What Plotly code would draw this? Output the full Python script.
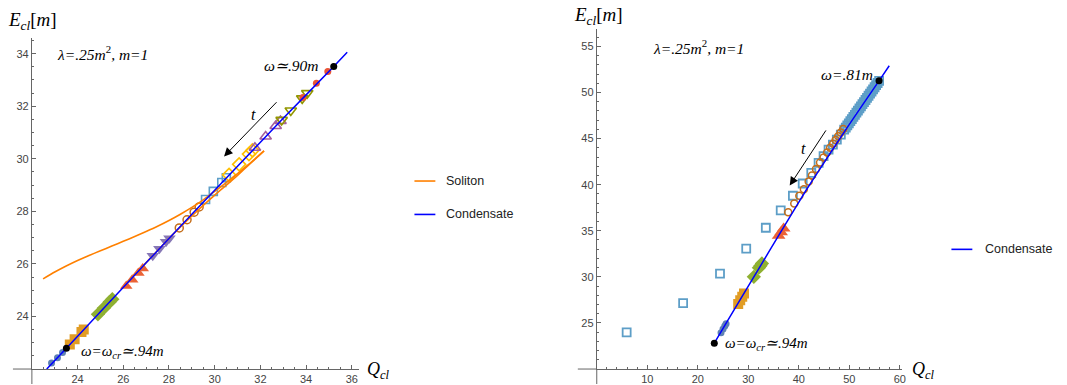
import plotly.graph_objects as go

W, H = 1067, 385

# ---------------- Left panel data ----------------
L_cond_Q = [22.65, 23.51, 25.0, 27.0, 29.0, 31.0, 33.0, 35.21, 35.8]
L_cond_E = [22.0, 22.79, 24.18, 26.04, 27.89, 29.72, 31.54, 33.51, 34.05]

L_solup_Q = [22.49, 23.0, 23.5, 24.0, 24.5, 25.0, 25.5, 26.0, 26.5, 27.0, 27.5, 28.0, 28.5, 29.0,
             29.5, 30.0, 30.5, 31.0, 31.5, 32.16]
L_solup_E = [25.43, 25.69, 25.92, 26.13, 26.32, 26.5, 26.68, 26.86, 27.04, 27.23, 27.43, 27.65,
             27.89, 28.15, 28.44, 28.76, 29.09, 29.44, 29.8, 30.3]
L_sollo_Q = [32.16, 31.6, 31.0, 30.5, 30.0, 29.5, 29.0, 28.5, 28.0, 27.5, 27.0, 26.2]
L_sollo_E = [30.3, 29.85, 29.37, 28.99, 28.62, 28.23, 27.83, 27.41, 26.97, 26.51, 26.05, 25.32]

L_s1_Q = [22.86, 23.12, 23.34]
L_s1_E = [22.23, 22.43, 22.63]
L_s2_Q = [23.66, 23.87, 24.17, 24.27]
L_s2_E = [22.93, 23.13, 23.41, 23.5]
L_s3_Q = [24.89, 25.15, 25.40, 25.52]
L_s3_E = [24.08, 24.32, 24.55, 24.66]
L_s4_Q = [26.13, 26.39, 26.66, 26.85]
L_s4_E = [25.16, 25.40, 25.65, 25.83]
L_s5_Q = [27.29, 27.58, 27.87, 28.02]
L_s5_E = [26.31, 26.58, 26.84, 26.98]
L_s6_Q = [28.45, 28.79, 29.10, 29.32]
L_s6_E = [27.37, 27.68, 27.97, 28.17]
L_s7_Q = [29.60, 29.94, 30.31, 30.51]
L_s7_E = [28.45, 28.76, 29.10, 29.28]
L_s8_Q = [30.63, 31.07, 31.50, 31.65]
L_s8_E = [29.39, 29.79, 30.18, 30.32]
L_s9_Q = [31.76, 32.23, 32.67, 32.88]
L_s9_E = [30.42, 30.85, 31.25, 31.44]
L_s10_Q = [32.93, 33.33, 33.83, 34.05]
L_s10_E = [31.48, 31.84, 32.30, 32.50]
L_s11_Q = [33.86, 34.45, 34.95]
L_s11_E = [32.33, 32.87, 33.32]
L_end_Q = [23.51, 35.21]
L_end_E = [22.79, 33.51]

L_xticks = [24, 26, 28, 30, 32, 34, 36]
L_yticks = [24, 26, 28, 30, 32, 34]

# ---------------- Right panel data ----------------
R_cond_Q = [23.27, 26.0, 30.0, 34.0, 38.0, 41.5, 45.0, 50.0, 55.88, 57.9]
R_cond_E = [22.81, 25.33, 29.0, 32.65, 36.3, 39.45, 42.4, 46.55, 51.27, 52.9]

R_s1_Q = [24.6, 25.0, 25.35, 25.6]
R_s1_E = [23.95, 24.35, 24.68, 24.9]
R_s2_Q = [28.0, 28.4, 28.8, 29.15]
R_s2_E = [27.05, 27.45, 27.85, 28.2]
R_s3_Q = [31.1, 32.1, 32.4, 32.7]
R_s3_E = [30.0, 31.0, 31.2, 31.45]
R_s4_Q = [36.0, 36.5, 37.0]
R_s4_E = [34.45, 34.85, 35.25]
R_s6_Q = [37.9, 39.1, 40.1, 41.0, 41.95, 42.6, 43.4, 44.2, 44.9, 45.6, 46.2, 46.8, 47.3, 47.8, 48.3, 48.8]
R_s6_E = [37.0, 37.95, 38.8, 39.5, 40.35, 41.0, 41.7, 42.4, 42.95, 43.5, 44.0, 44.45, 44.85, 45.25, 45.65, 46.05]
R_s7_Q = [5.92, 17.1, 24.4, 29.59, 33.47, 36.42, 38.83, 40.77, 42.47, 43.92, 44.9, 45.89, 46.75,
          47.53, 48.32, 48.98, 49.3, 49.6, 49.9, 50.2, 50.5, 50.8, 51.1, 51.4, 51.7, 52.0, 52.3,
          52.6, 52.9, 53.2, 53.5, 53.8, 54.1, 54.4, 54.7, 55.0, 55.3, 55.6, 55.9]
R_s7_E = [23.97, 27.14, 30.35, 33.06, 35.33, 37.22, 38.8, 40.13, 41.28, 42.37, 43.09, 43.81, 44.35,
          44.89, 45.43, 45.97, 46.2, 46.43, 46.66, 46.89, 47.12, 47.35, 47.58, 47.81, 48.04, 48.27, 48.5,
          48.73, 48.96, 49.19, 49.42, 49.65, 49.88, 50.11, 50.34, 50.57, 50.8, 51.03, 51.26]
R_end_Q = [23.27, 55.88]
R_end_E = [22.81, 51.27]

R_xticks = [10, 20, 30, 40, 50, 60]
R_yticks = [25, 30, 35, 40, 45, 50, 55]

C_BLUE1 = '#5E81B5'; C_ORANGE = '#E19C24'; C_GREEN = '#8FB032'; C_RED = '#EB6235'
C_PURPLE = '#8778B6'; C_BROWN = '#C56E1A'; C_LBLUE = '#5D9EC7'; C_YELLOW = '#FFBF00'
C_MAGENTA = '#A5609D'; C_OLIVE = '#929600'; C_RED2 = '#E95536'
SOL = '#FF8000'; COND = '#0000FF'

fig = go.Figure()

def mk(q, e, sym, col, size, xa, ya, lw=0.0):
    fig.add_trace(go.Scatter(x=q, y=e, mode='markers', xaxis=xa, yaxis=ya, showlegend=False,
                             marker=dict(symbol=sym, color=col, size=size,
                                         line=dict(color=col, width=lw))))

def ln(q, e, col, xa, ya, w=1.6, name=None, shape='linear'):
    fig.add_trace(go.Scatter(x=q, y=e, mode='lines', xaxis=xa, yaxis=ya, showlegend=False, name=name,
                             line=dict(color=col, width=w, shape=shape, smoothing=0.5)))

# left markers
mk(L_s1_Q, L_s1_E, 'circle', C_BLUE1, 7, 'x', 'y')
mk(L_s2_Q, L_s2_E, 'square', C_ORANGE, 10, 'x', 'y')
mk(L_s3_Q, L_s3_E, 'diamond', C_GREEN, 11, 'x', 'y')
mk(L_s4_Q, L_s4_E, 'triangle-up', C_RED, 11, 'x', 'y')
mk(L_s5_Q, L_s5_E, 'triangle-down', C_PURPLE, 11, 'x', 'y')
mk(L_s6_Q, L_s6_E, 'circle-open', C_BROWN, 8, 'x', 'y', 1.5)
mk(L_s7_Q, L_s7_E, 'square-open', C_LBLUE, 8, 'x', 'y', 1.6)
mk(L_s8_Q, L_s8_E, 'diamond-open', C_YELLOW, 10, 'x', 'y', 1.6)
mk(L_s9_Q, L_s9_E, 'triangle-up-open', C_MAGENTA, 10, 'x', 'y', 1.6)
mk(L_s10_Q, L_s10_E, 'triangle-down-open', C_OLIVE, 10, 'x', 'y', 1.6)
mk(L_s11_Q, L_s11_E, 'circle', C_RED2, 7, 'x', 'y')
ln(L_solup_Q, L_solup_E, SOL, 'x', 'y', 1.6, 'Soliton', 'spline')
ln(L_sollo_Q, L_sollo_E, SOL, 'x', 'y', 1.6, 'Soliton', 'spline')
ln(L_cond_Q, L_cond_E, COND, 'x', 'y', 1.5, 'Condensate', 'spline')
mk(L_end_Q, L_end_E, 'circle', 'black', 7, 'x', 'y')

# right markers
mk(R_s7_Q, R_s7_E, 'square-open', C_LBLUE, 8, 'x2', 'y2', 1.8)
mk(R_s6_Q, R_s6_E, 'circle-open', C_BROWN, 7, 'x2', 'y2', 1.5)
mk(R_s1_Q, R_s1_E, 'circle', C_BLUE1, 7, 'x2', 'y2')
mk(R_s2_Q, R_s2_E, 'square', C_ORANGE, 10, 'x2', 'y2')
mk(R_s3_Q, R_s3_E, 'diamond', C_GREEN, 11, 'x2', 'y2')
mk(R_s4_Q, R_s4_E, 'triangle-up', C_RED, 12, 'x2', 'y2')
ln(R_cond_Q, R_cond_E, COND, 'x2', 'y2', 1.5, 'Condensate', 'spline')
mk(R_end_Q, R_end_E, 'circle', 'black', 7, 'x2', 'y2')

AX = '#666666'
def axis(domain, rng, tickvals, mtick0, mdtick, anchor):
    return dict(domain=domain, range=rng, anchor=anchor, showgrid=False, zeroline=False,
                showline=True, linecolor=AX, linewidth=1, ticks='inside', ticklen=4,
                tickwidth=1, tickcolor=AX, tickmode='array', tickvals=tickvals,
                tickfont=dict(family='Liberation Sans, Arial, sans-serif', size=11, color='#444444'),
                minor=dict(tickmode='linear', tick0=mtick0, dtick=mdtick, ticklen=2.5,
                           tickcolor=AX, ticks='inside', tickwidth=1),
                fixedrange=True)

px = lambda v: v / W
py = lambda v: 1 - v / H

fig.update_layout(
    width=W, height=H, margin=dict(l=0, r=0, t=0, b=0),
    paper_bgcolor='white', plot_bgcolor='white', showlegend=False,
    xaxis=axis([px(32), px(360)], [22, 36.3], L_xticks, 22, 0.5, 'y'),
    yaxis=axis([1 - 370 / H, 1 - 38 / H], [22, 34.6], L_yticks, 22, 0.5, 'x'),
    xaxis2=axis([px(599), px(905)], [0, 60.35], R_xticks, 0, 2, 'y2'),
    yaxis2=axis([1 - 370 / H, 1 - 29 / H], [20, 56.9], R_yticks, 20, 1, 'x2'),
)

shapes = []
# axis extensions (Mathematica-style crossing axes)
shapes.append(dict(type='line', xref='paper', yref='paper', x0=px(13), x1=px(32), y0=py(370), y1=py(370), line=dict(color=AX, width=1)))
shapes.append(dict(type='line', xref='paper', yref='paper', x0=px(32), x1=px(32), y0=py(370), y1=0, line=dict(color=AX, width=1)))
shapes.append(dict(type='line', xref='paper', yref='paper', x0=px(580), x1=px(599), y0=py(370), y1=py(370), line=dict(color=AX, width=1)))
shapes.append(dict(type='line', xref='paper', yref='paper', x0=px(599), x1=px(599), y0=py(370), y1=0, line=dict(color=AX, width=1)))
# legend samples
shapes.append(dict(type='line', xref='paper', yref='paper', x0=px(416), x1=px(437), y0=py(181.5), y1=py(181.5), line=dict(color=SOL, width=1.6)))
shapes.append(dict(type='line', xref='paper', yref='paper', x0=px(416), x1=px(437), y0=py(215), y1=py(215), line=dict(color=COND, width=1.6)))
shapes.append(dict(type='line', xref='paper', yref='paper', x0=px(955), x1=px(976), y0=py(250), y1=py(250), line=dict(color=COND, width=1.6)))
fig.update_layout(shapes=shapes)

SERIF = 'Liberation Serif, Times New Roman, serif'
SANS = 'Liberation Sans, Arial, sans-serif'
ann = []
def txt(x, y, s, xref, yref, size=14, xanchor='left', family=SERIF, color='black'):
    ann.append(dict(x=x, y=y, xref=xref, yref=yref, text=s, showarrow=False, xanchor=xanchor,
                    yanchor='middle', font=dict(family=family, size=size, color=color)))

# axis labels
ylab = '<i>E</i><sub><i>cl</i></sub>[<i>m</i>]'
qlab = '<i>Q</i><sub><i>cl</i></sub>'
txt(px(6), py(21), ylab, 'paper', 'paper', 19)
txt(px(574), py(16), ylab, 'paper', 'paper', 19)
txt(px(366), py(371), qlab, 'paper', 'paper', 18)
txt(px(913), py(371), qlab, 'paper', 'paper', 18)

# left panel texts
txt(23.0, 34.03, '<i>λ=.25m</i><sup>2</sup><i>, m=1</i>', 'x', 'y', 15.5)
txt(34.64, 33.54, '<i>ω≃.90m</i>', 'x', 'y', 15.5, 'right')
txt(24.05, 22.65, '<i>ω=ω</i><sub><i>cr</i></sub><i>≃.94m</i>', 'x', 'y', 15)
txt(31.68, 31.68, '<i>t</i>', 'x', 'y', 16, 'center')
# right panel texts
txt(10.65, 54.99, '<i>λ=.25m</i><sup>2</sup><i>, m=1</i>', 'x2', 'y2', 15.5)
txt(55.03, 51.93, '<i>ω=.81m</i>', 'x2', 'y2', 15.5, 'right')
txt(24.99, 22.71, '<i>ω=ω</i><sub><i>cr</i></sub><i>≃.94m</i>', 'x2', 'y2', 15)
txt(40.83, 43.92, '<i>t</i>', 'x2', 'y2', 16, 'center')

# legends
txt(px(446), py(181.5), 'Soliton', 'paper', 'paper', 12.5, family=SANS, color='#222')
txt(px(446), py(215), 'Condensate', 'paper', 'paper', 12.5, family=SANS, color='#222')
txt(px(987), py(250), 'Condensate', 'paper', 'paper', 12.5, family=SANS, color='#222')

# arrows
ann.append(dict(x=30.41, y=30.09, ax=32.77, ay=32.21, xref='x', yref='y', axref='x', ayref='y',
                showarrow=True, arrowhead=2, arrowsize=1.7, arrowwidth=1, arrowcolor='black', text=''))
ann.append(dict(x=38.2, y=39.91, ax=45.56, ay=46.05, xref='x2', yref='y2', axref='x2', ayref='y2',
                showarrow=True, arrowhead=2, arrowsize=1.7, arrowwidth=1, arrowcolor='black', text=''))
fig.update_layout(annotations=ann)

fig.write_html('out.html')
